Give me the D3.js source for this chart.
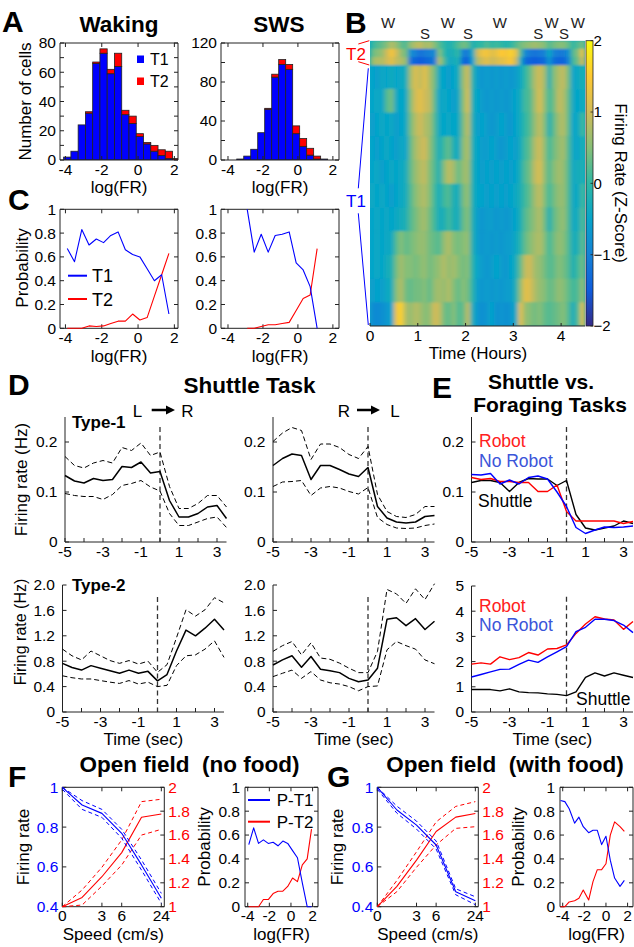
<!DOCTYPE html>
<html>
<head>
<meta charset="utf-8">
<script src="https://cdn.jsdelivr.net/npm/d3@7/dist/d3.min.js"></script>
<style>
html,body{margin:0;padding:0;background:#fff;}
svg{display:block;}
</style>
</head>
<body>
<svg id="fig" width="634" height="947" font-family='"Liberation Sans", Arial, Helvetica, sans-serif'></svg>
<script>
// ================= DATA =================
// Panel A: histograms of log firing rate (counts per bin)
const histBinWidth = 0.4;
const wakeBins = [-3.9,-3.5,-3.1,-2.7,-2.3,-1.9,-1.5,-1.1,-0.7,-0.3,0.1,0.5,0.9,1.3,1.7,2.1];
const wakeT1 = [2,6,24,32,66,73,59,64,31,25,16,11,6,3,1,0];
const wakeT2 = [0,0,0,1,1,3,3,9,3,5,2,1,4,4,5,1];
const swsBins = [-3.3,-2.9,-2.5,-2.1,-1.7,-1.3,-0.9,-0.5,-0.1,0.3,0.7,1.1,1.5];
const swsT1 = [1,4,11,28,52,85,98,93,27,14,5,1,1];
const swsT2 = [0,0,0,0,1,3,5,5,8,8,7,3,0];
const wakeYTicks = [0,10,20,30,40,50,60,70,80];
const wakeYLabels = [0,20,40,60,80];
const swsYTicks = [0,20,40,60,80,100,120];
const swsYLabels = [0,40,80,120];
const logTicks = [-4,-2,0,2];

// Panel C: probability of T1 / T2
const cWakeX = [-3.9,-3.5,-3.1,-2.7,-2.3,-1.9,-1.5,-1.1,-0.7,-0.3,0.1,0.5,0.9,1.3,1.7];
const cWakeT1 = [0.67,0.56,0.83,0.70,0.75,0.72,0.78,0.81,0.66,0.62,0.60,0.50,0.40,0.45,0.12];
const cWakeT2 = [0,0,0,0.02,0.015,0.02,0.04,0.06,0.06,0.12,0.07,0.09,0.27,0.45,0.63];
const cSwsX = [-2.9,-2.5,-2.1,-1.7,-1.3,-0.9,-0.5,-0.1,0.3,0.7,1.1];
const cSwsT1 = [1.0,0.64,0.79,0.64,0.78,0.79,0.81,0.55,0.49,0.35,0.0];
const cSwsT2 = [0,0,0.015,0.03,0.03,0.04,0.05,0.15,0.25,0.28,0.67];
const probTicks = [0,0.2,0.4,0.6,0.8,1];

// Panel B: heatmap (z-score), rows = groups of cells (rank), columns = 0.1 h bins
const heatTime = [0,0.1,0.2,0.3,0.4,0.5,0.6,0.7,0.8,0.9,1.0,1.1,1.2,1.3,1.4,1.5,1.6,1.7,1.8,1.9,2.0,2.1,2.2,2.3,2.4,2.5,2.6,2.7,2.8,2.9,3.0,3.1,3.2,3.3,3.4,3.5,3.6,3.7,3.8,3.9,4.0,4.1,4.2,4.3,4.4];
const heatStep = 0.1;
const heatRowStart = [0,10,20,30,59,88,117,146,175,204,233,262,291,320];
const heatRowEnd   = [10,20,30,59,88,117,146,175,204,233,262,291,320,349];
const heatCells = 349;
const heatZ = [
 [0.0,0.2,0.3,0.5,0.8,0.6,0.3,0.2, 0.6,0.8,0.9,0.7,0.8,0.5, 0.2,0.0,-0.2,0.0,0.2, 0.4,0.3, -0.2,0.0,0.0,0.2,0.0,0.1,0.0,-0.1,0.0,0.2,0.4, 0.5,0.6,0.7,0.6,0.5, 0.2, 0.4,0.5,0.5,0.3, 0.0,0.2,0.4],
 [0.3,0.5,0.6,1.0,1.4,1.0,0.6,0.4, -0.8,-1.0,-1.2,-1.1,-1.0,-0.9, 0.5,0.0,-0.3,-0.2,0.0, -1.0,-1.1, -0.3,1.0,1.3,1.4,1.2,1.3,1.5,1.4,1.6,1.3,0.2, -0.9,-1.1,-1.2,-1.1,-1.0, -0.4, -1.0,-1.1,-1.1,-0.8, 0.2,0.5,1.3],
 [0.6,0.8,0.8,1.0,1.2,0.9,0.8,0.6, -1.2,-1.4,-1.5,-1.4,-1.3,-1.1, 0.8,0.2,-0.4,-0.3,-0.2, -1.3,-1.4, -0.5,0.8,1.0,1.2,1.0,1.1,1.2,1.3,1.5,1.0,-0.3, -1.3,-1.4,-1.5,-1.4,-1.3, -0.7, -1.3,-1.4,-1.4,-1.0, 0.1,0.4,1.0],
 [-0.5,-0.6,-0.4,-0.5,-0.3,-0.5,-0.4,-0.3, 0.7,1.1,0.9,1.2,0.8,0.4, -0.4,-0.5,-0.6,-0.5,-0.3, 0.6,1.0, -0.1,-0.6,-0.7,-0.6,-0.7,-0.6,-0.7,-0.6,-0.7,-0.6,-0.4, 0.0,0.3,0.8,1.0,0.7, -0.2, 0.5,0.8,0.9,0.4, -0.5,-0.4,-0.2],
 [-0.5,-0.4,-0.5,0.2,0.4,-0.4,-0.5,-0.4, 0.5,1.0,1.2,1.0,0.9,0.3, -0.5,-0.4,-0.5,-0.6,-0.4, 0.5,1.1, -0.2,-0.5,-0.6,-0.7,-0.6,-0.7,-0.6,-0.7,-0.6,-0.5,-0.3, 0.1,0.2,0.7,1.1,0.6, 0.1, 0.4,0.9,0.8,0.3, -0.4,-0.5,-0.3],
 [-0.6,-0.5,-0.4,-0.5,-0.4,-0.6,-0.5,-0.4, 0.4,0.8,1.0,0.8,0.7,0.2, -0.4,-0.5,-0.4,-0.5,-0.4, 0.4,0.9, -0.2,-0.6,-0.5,-0.6,-0.7,-0.6,-0.5,-0.6,-0.7,-0.5,-0.3, 0.0,0.2,0.6,0.9,0.5, -0.2, 0.3,0.7,0.8,0.3, -0.5,-0.4,0.1],
 [-0.5,-0.6,-0.5,-0.4,-0.5,-0.6,-0.4,-0.5, 0.3,0.7,0.9,1.0,0.6,0.2, -0.3,0.1,0.3,-0.2,-0.4, 0.5,0.8, -0.2,-0.5,-0.6,-0.6,-0.5,-0.6,-0.7,-0.6,-0.5,-0.6,-0.3, 0.1,0.3,0.8,1.0,0.6, 0.1, 0.4,0.6,0.7,0.2, -0.4,-0.5,-0.2],
 [-0.5,-0.4,-0.6,-0.5,-0.4,-0.5,-0.4,-0.3, 0.3,0.6,0.8,0.9,0.5,0.2, -0.2,0.5,0.9,0.7,0.3, 0.6,0.7, -0.2,-0.5,-0.6,-0.5,-0.6,-0.5,-0.6,-0.5,-0.6,-0.5,-0.2, 0.2,0.4,0.9,1.1,0.6, 0.2, 0.5,0.7,0.6,0.2, -0.4,-0.3,-0.2],
 [-0.4,-0.5,-0.4,-0.5,-0.6,-0.5,-0.4,-0.3, 0.2,0.5,0.7,0.8,0.5,0.1, -0.3,0.1,0.2,-0.2,-0.3, 0.4,0.6, -0.2,-0.5,-0.5,-0.6,-0.5,-0.6,-0.5,-0.6,-0.5,-0.4,-0.2, 0.1,0.3,0.7,0.9,0.5, 0.1, 0.4,0.6,0.6,0.2, -0.4,-0.4,0.1],
 [-0.5,-0.4,-0.5,-0.4,-0.5,-0.4,-0.3,-0.2, 0.2,0.4,0.6,0.7,0.4,0.1, -0.3,-0.2,0.1,-0.2,-0.3, 0.3,0.5, -0.2,-0.6,-0.7,-0.6,-0.6,-0.7,-0.6,-0.7,-0.6,-0.5,-0.2, 0.2,0.4,0.6,0.8,0.4, -0.2, 0.3,0.5,0.6,0.2, -0.4,-0.3,0.2],
 [-0.5,-0.4,-0.5,-0.4,-0.4,0.2,0.5,0.3, 0.4,0.5,0.6,0.6,0.4,0.3, 0.2,0.6,0.8,0.5,0.4, 0.5,0.6, -0.2,-0.6,-0.7,-0.6,-0.7,-0.6,-0.7,-0.6,-0.6,-0.4,-0.1, 0.3,0.5,0.7,0.8,0.5, 0.1, 0.4,0.6,0.5,0.2, -0.3,-0.2,0.3],
 [-0.5,-0.4,-0.5,-0.3,-0.2,0.4,0.7,0.5, 0.5,0.4,0.5,0.6,0.4,0.5, 0.6,0.8,0.6,0.7,0.5, 0.4,0.5, -0.1,-0.5,-0.6,-0.7,-0.6,-0.5,-0.6,-0.7,-0.5,-0.3,0.3, 0.9,1.0,0.7,0.6,0.4, 0.2, 0.3,0.5,0.4,0.2, -0.2,0.1,0.4],
 [-0.6,-0.5,-0.6,-0.4,-0.3,0.5,0.8,0.4, 0.3,0.4,0.4,0.5,0.3,0.6, 0.7,0.6,0.8,0.5,0.3, 0.5,0.4, -0.1,-0.6,-0.7,-0.6,-0.7,-0.6,-0.7,-0.6,-0.6,-0.2,0.6, 1.2,1.1,0.8,0.6,0.5, 0.3, 0.4,0.6,0.5,0.3, 0.1,0.2,0.6],
 [-0.8,-0.9,-0.8,-0.7,-0.5,1.3,1.6,0.8, 0.6,0.8,0.7,0.5,0.6,1.0, 0.9,0.4,0.3,0.5,0.2, 0.3,0.9, -0.3,-0.7,-0.8,-0.7,-0.5,-0.8,-0.7,-0.8,-0.7,-0.4,1.2, 0.6,0.5,0.4,0.5,0.3, 0.2, 0.3,0.4,0.5,0.2, -0.3,0.2,1.2]
];
const hourTicks = [0,1,2,3,4];
const zTicks = [2,1,0,-1,-2];
const wLabelTimes = [0.38,1.63,2.72,3.8,4.35];
const sLabelTimes = [1.15,2.05,3.52,4.06];

// Panel D: shuttle task, time from boundary crossing (s)
const dTime = [-5,-4.5,-4,-3.5,-3,-2.5,-2,-1.5,-1,-0.5,0,0.5,1,1.5,2,2.5,3,3.5];
const dTicks = [-5,-4,-3,-2,-1,0,1,2,3];
const dTickLabels = [-5,-3,-1,1,3];
const d1LRmean = [0.133,0.122,0.118,0.127,0.123,0.125,0.151,0.149,0.160,0.138,0.141,0.083,0.050,0.050,0.057,0.070,0.073,0.047];
const d1LRup   = [0.171,0.153,0.148,0.158,0.163,0.158,0.189,0.183,0.198,0.173,0.180,0.111,0.067,0.067,0.077,0.093,0.093,0.070];
const d1LRlo   = [0.097,0.093,0.091,0.091,0.085,0.095,0.113,0.117,0.123,0.110,0.102,0.057,0.033,0.033,0.040,0.047,0.050,0.029];
const d1RLmean = [0.153,0.167,0.176,0.173,0.125,0.153,0.153,0.145,0.136,0.131,0.149,0.071,0.048,0.040,0.038,0.040,0.051,0.053];
const d1RLup   = [0.201,0.218,0.229,0.223,0.165,0.196,0.196,0.189,0.175,0.167,0.191,0.095,0.061,0.051,0.049,0.055,0.071,0.071];
const d1RLlo   = [0.111,0.120,0.121,0.123,0.093,0.108,0.111,0.108,0.101,0.096,0.109,0.049,0.035,0.028,0.027,0.028,0.033,0.036];
const d2LRmean = [0.766,0.70,0.66,0.73,0.69,0.65,0.61,0.66,0.61,0.64,0.49,0.59,0.96,1.29,1.20,1.32,1.46,1.29];
const d2LRup   = [0.99,0.885,0.82,0.96,0.885,0.81,0.766,0.81,0.755,0.80,0.625,0.745,1.17,1.61,1.51,1.61,1.80,1.72];
const d2LRlo   = [0.57,0.54,0.52,0.52,0.495,0.47,0.45,0.495,0.44,0.47,0.40,0.42,0.73,0.885,0.90,0.99,1.12,0.86];
const d2RLmean = [0.74,0.82,0.886,0.705,0.875,0.674,0.65,0.62,0.53,0.477,0.504,0.69,1.46,1.485,1.36,1.47,1.30,1.43];
const d2RLup   = [0.955,1.045,1.11,0.90,1.09,0.85,0.83,0.77,0.69,0.62,0.62,0.955,1.93,1.86,1.71,1.94,1.77,2.02];
const d2RLlo   = [0.557,0.61,0.66,0.53,0.637,0.504,0.46,0.44,0.40,0.334,0.40,0.41,0.98,1.11,1.045,0.99,0.82,0.76];
const type1Ticks = [0,0.1,0.2];
const type2Ticks = [0,0.4,0.8,1.2,1.6,2.0];
const eBotTicks = [0,1,2,3,4,5];

// Panel E: shuttle vs foraging
const eTopRobot   = [0.129,0.125,0.127,0.121,0.121,0.119,0.119,0.101,0.101,0.114,0.061,0.042,0.042,0.042,0.042,0.042,0.037,0.041];
const eTopNoRobot = [0.135,0.134,0.137,0.116,0.124,0.116,0.129,0.132,0.126,0.100,0.071,0.029,0.017,0.024,0.030,0.029,0.030,0.032];
const eTopShuttle = [0.119,0.123,0.123,0.119,0.101,0.119,0.127,0.126,0.126,0.113,0.123,0.055,0.028,0.024,0.028,0.032,0.042,0.037];
const eBotRobot   = [1.90,1.95,1.90,2.19,2.08,2.16,2.36,2.26,2.50,2.52,2.66,3.12,3.49,3.78,3.69,3.65,3.28,3.59];
const eBotNoRobot = [1.39,1.49,1.59,1.69,1.70,1.89,2.06,1.97,2.19,2.39,2.59,3.19,3.36,3.68,3.68,3.63,3.45,3.15];
const eBotShuttle = [0.89,0.89,0.89,0.84,0.92,0.80,0.77,0.76,0.72,0.70,0.65,0.80,1.37,1.55,1.43,1.55,1.46,1.37];

// Panels F / G: speed tuning (speed bins) and probability
const speedIdx = [0,1,2,3,4,5];
const speedTickIdx = [0,2,3,5];
const speedTickLabels = ['0','3','6','24'];
const frBlueTicks = [0.4,0.6,0.8,1];
const frRedTicks = [1,1.2,1.4,1.6,1.8,2];
const fBlue   = [1.0,0.911,0.869,0.769,0.61,0.442];
const fBlueUp = [1.0,0.933,0.889,0.789,0.635,0.467];
const fBlueLo = [0.99,0.889,0.849,0.744,0.584,0.417];
const fRed    = [1.0,1.078,1.251,1.453,1.749,1.777];
const fRedUp  = [1.0,1.14,1.33,1.559,1.88,1.90];
const fRedLo  = [1.0,1.014,1.173,1.349,1.60,1.648];
const gBlue   = [1.0,0.886,0.81,0.71,0.475,0.43];
const gBlueUp = [1.0,0.905,0.83,0.73,0.49,0.45];
const gBlueLo = [0.99,0.87,0.79,0.69,0.46,0.41];
const gRed    = [1.0,1.17,1.39,1.63,1.75,1.78];
const gRedUp  = [1.0,1.22,1.46,1.71,1.84,1.88];
const gRedLo  = [1.0,1.126,1.33,1.517,1.656,1.67];
const fProbX = [-3.9,-3.45,-3.0,-2.55,-2.1,-1.65,-1.2,-0.75,-0.3,0.15,0.6,1.05,1.5,1.9];
const fPT1 = [0.52,0.66,0.53,0.56,0.53,0.54,0.51,0.55,0.53,0.47,0.41,0.20,0,0];
const fPT2 = [0,0,0,0.06,0.06,0.11,0.13,0.13,0.17,0.24,0.21,0.35,0.40,0.65];
const gProbX = [-4.2,-3.8,-3.4,-2.9,-2.5,-2.1,-1.6,-1.2,-0.8,-0.4,0,0.4,0.8,1.3,1.7];
const gPT1 = [0.89,0.88,0.82,0.70,0.75,0.67,0.62,0.64,0.64,0.52,0.59,0.39,0.24,0.17,0.22];
const gPT2 = [0,0,0.04,0.05,0.07,0.14,0.056,0.21,0.31,0.31,0.36,0.60,0.71,0.67,0.63];

// ================= DRAWING =================
const svg = d3.select('#fig');
const defs = svg.append('defs');
const AX = '#222';
const FT = 15.5, FL = 17, FTI = 22.5, FP = 30;
const TOFF = 14.5;   // x tick label baseline below spine
const LOFF = 33.2;   // x axis title baseline below spine
const BLUE = '#0000ff', RED = '#ff0000';

function T(x, y, s, o = {}) {
  const t = svg.append('text').attr('x', x).attr('y', y).text(s)
    .attr('font-size', o.size || FT).attr('text-anchor', o.anchor || 'middle')
    .attr('fill', o.fill || '#000').attr('font-weight', o.weight || 'normal');
  if (o.rot) t.attr('transform', `rotate(${o.rot},${x},${y})`);
  if (o.dy) t.attr('dy', o.dy);
  return t;
}
function L(x1, y1, x2, y2, o = {}) {
  return svg.append('line').attr('x1', x1).attr('y1', y1).attr('x2', x2).attr('y2', y2)
    .attr('stroke', o.stroke || AX).attr('stroke-width', o.w || 1)
    .attr('stroke-dasharray', o.dash || null);
}
function frame(sx, sy, box) {
  const [x0, x1] = sx.range(), [yb, yt] = sy.range();
  svg.append('path').attr('d', box ? `M${x0},${yt}H${x1}V${yb}H${x0}Z` : `M${x0},${yt}V${yb}H${x1}`)
    .attr('fill', 'none').attr('stroke', AX).attr('stroke-width', 1);
}
function ticksX(sx, sy, vals, box) {
  const [yb, yt] = sy.range();
  vals.forEach(v => { L(sx(v), yb, sx(v), yb - 4); if (box) L(sx(v), yt, sx(v), yt + 4); });
}
function ticksY(sx, sy, vals, box) {
  const [x0, x1] = sx.range();
  vals.forEach(v => { L(x0, sy(v), x0 + 4, sy(v)); if (box) L(x1, sy(v), x1 - 4, sy(v)); });
}
function labelsX(sx, sy, vals, fmt) {
  const yb = sy.range()[0];
  vals.forEach((v, i) => T(sx(v), yb + TOFF, fmt(v, i), { size: FT }));
}
function labelsY(sx, sy, vals, fmt, o = {}) {
  const gap = o.gap ?? 4;
  const x = o.right ? sx.range()[1] + gap : sx.range()[0] - gap;
  vals.forEach((v, i) => T(x, sy(v), fmt(v, i), { size: FT, anchor: o.right ? 'start' : 'end', dy: '0.35em', fill: o.fill }));
}
function xTitle(sx, sy, s) {
  const [x0, x1] = sx.range();
  T((x0 + x1) / 2, sy.range()[0] + LOFF, s, { size: FL });
}
function plotLine(sx, sy, xs, ys, o = {}) {
  svg.append('path').datum(d3.zip(xs, ys))
    .attr('d', d3.line().x(d => sx(d[0])).y(d => sy(d[1])))
    .attr('fill', 'none').attr('stroke', o.stroke || '#000').attr('stroke-width', o.w || 1.2)
    .attr('stroke-dasharray', o.dash || null).attr('stroke-linejoin', 'round');
}
const fmtS = v => String(v);
const fmtP = v => String(+v.toFixed(1));
const fmt1 = v => v === 0 ? '0' : v.toFixed(1);

// Panel letters
[['A', 2, 32], ['B', 345, 33], ['C', 8, 210], ['D', 8, 395], ['E', 432, 398], ['F', 8, 787], ['G', 327, 787]]
  .forEach(([s, x, y]) => T(x, y, s, { size: FP, weight: 'bold', anchor: 'start' }));

// ---------- Panel A ----------
function hist(id, sx, sy, bins, t1, t2) {
  const [x0, x1] = sx.range(), [yb, yt] = sy.range();
  defs.append('clipPath').attr('id', id).append('rect').attr('x', x0).attr('y', yt).attr('width', x1 - x0).attr('height', yb - yt);
  const g = svg.append('g').attr('clip-path', `url(#${id})`);
  bins.forEach((b, i) => {
    const xa = sx(b - histBinWidth / 2), w = sx(b + histBinWidth / 2) - xa;
    if (t1[i] > 0) g.append('rect').attr('x', xa).attr('y', sy(t1[i])).attr('width', w).attr('height', sy(0) - sy(t1[i]))
      .attr('fill', BLUE).attr('stroke', '#222').attr('stroke-width', 0.8);
    if (t2[i] > 0) g.append('rect').attr('x', xa).attr('y', sy(t1[i] + t2[i])).attr('width', w).attr('height', sy(t1[i]) - sy(t1[i] + t2[i]))
      .attr('fill', RED).attr('stroke', '#222').attr('stroke-width', 0.8);
  });
}
const xAw = d3.scaleLinear([-4.3, 2.2], [60, 178]);
const yAw = d3.scaleLinear([0, 80], [160, 43]);
hist('clipAw', xAw, yAw, wakeBins, wakeT1, wakeT2);
frame(xAw, yAw, true); ticksX(xAw, yAw, logTicks, true); ticksY(xAw, yAw, wakeYTicks, true);
labelsX(xAw, yAw, logTicks, fmtS); labelsY(xAw, yAw, wakeYLabels, fmtS);
T(119, 32, 'Waking', { size: FTI, weight: 'bold' });
T(31, 101.5, 'Number of cells', { size: FL, rot: -90 });
xTitle(xAw, yAw, 'log(FR)');
svg.append('rect').attr('x', 137).attr('y', 55.5).attr('width', 7).attr('height', 7.5).attr('fill', BLUE);
svg.append('rect').attr('x', 137).attr('y', 77.5).attr('width', 7).attr('height', 7.5).attr('fill', RED);
T(150, 64.5, 'T1', { size: 16, anchor: 'start' });
T(150, 86.5, 'T2', { size: 16, anchor: 'start' });

const xAs = d3.scaleLinear([-4.4, 2.35], [221, 339]);
const yAs = d3.scaleLinear([0, 120], [160, 43]);
hist('clipAs', xAs, yAs, swsBins, swsT1, swsT2);
frame(xAs, yAs, true); ticksX(xAs, yAs, logTicks, true); ticksY(xAs, yAs, swsYTicks, true);
labelsX(xAs, yAs, logTicks, fmtS); labelsY(xAs, yAs, swsYLabels, fmtS);
T(279, 32, 'SWS', { size: FTI, weight: 'bold' });
xTitle(xAs, yAs, 'log(FR)');

// ---------- Panel C ----------
const yC = d3.scaleLinear([0, 1], [328.3, 209.3]);
const xCw = d3.scaleLinear([-4.3, 2.2], [60, 178]);
const xCs = d3.scaleLinear([-4.4, 2.35], [221, 339]);
[[xCw, cWakeX, cWakeT1, cWakeT2], [xCs, cSwsX, cSwsT1, cSwsT2]].forEach(([sx, xs, a, b]) => {
  frame(sx, yC, true); ticksX(sx, yC, logTicks, true); ticksY(sx, yC, probTicks, true);
  labelsX(sx, yC, logTicks, fmtS); labelsY(sx, yC, probTicks, fmtP);
  plotLine(sx, yC, xs, b, { stroke: RED, w: 1.1 });
  plotLine(sx, yC, xs, a, { stroke: BLUE, w: 1.1 });
  xTitle(sx, yC, 'log(FR)');
});
T(28, 268, 'Probability', { size: FL, rot: -90 });
L(68, 275.7, 87, 275.7, { stroke: BLUE, w: 2 }); T(92, 282, 'T1', { size: 18, anchor: 'start' });
L(68, 299, 87, 299, { stroke: RED, w: 2 }); T(92, 305.5, 'T2', { size: 18, anchor: 'start' });

// ---------- Panel B ----------
const xB = d3.scaleLinear([0, 4.5], [370, 585]);
const yB = d3.scaleLinear([0, heatCells], [40.7, 326]);
const parulaStops = ['#352a87', '#0f5cdd', '#1481d6', '#06a4ca', '#2eb7a4', '#87bf77', '#d1bb59', '#fec832', '#f9fb0e'];
const zScale = d3.scaleLinear([-2, 2], [0, 1]);
const cmap = d3.scaleLinear().domain(parulaStops.map((c, i) => zScale.invert(i / (parulaStops.length - 1)))).range(parulaStops).clamp(true);
defs.append('clipPath').attr('id', 'hclip').append('rect')
  .attr('x', xB(0)).attr('y', yB(0)).attr('width', xB(4.5) - xB(0)).attr('height', yB(heatCells) - yB(0));
const blur = defs.append('filter').attr('id', 'hblur').attr('x', '-5%').attr('y', '-5%').attr('width', '110%').attr('height', '110%');
blur.append('feGaussianBlur').attr('stdDeviation', '2.2 1.2');
const hg = svg.append('g').attr('clip-path', 'url(#hclip)');
hg.append('rect').attr('x', xB(0)).attr('y', yB(0)).attr('width', xB(4.5) - xB(0)).attr('height', yB(heatCells) - yB(0)).attr('fill', cmap(-0.45));
const hc = hg.append('g').attr('filter', 'url(#hblur)');
heatZ.forEach((row, r) => row.forEach((z, c) => {
  const x0 = xB(heatTime[c]), x1 = xB(heatTime[c] + heatStep);
  const y0 = yB(heatRowStart[r]), y1 = yB(heatRowEnd[r]);
  hc.append('rect').attr('x', x0).attr('y', y0).attr('width', x1 - x0 + 0.4).attr('height', y1 - y0 + 0.4).attr('fill', cmap(z));
}));
L(xB(0), yB(heatCells), xB(4.5), yB(heatCells), { w: 1.2 });
hourTicks.forEach(h => { L(xB(h), yB(heatCells), xB(h), yB(heatCells) - 3); T(xB(h), yB(heatCells) + TOFF, String(h), { size: FT }); });
T(478, yB(heatCells) + LOFF, 'Time (Hours)', { size: FL });
wLabelTimes.forEach(t => T(xB(t), 28, 'W', { size: 15, fill: '#222' }));
sLabelTimes.forEach(t => T(xB(t), 38.5, 'S', { size: 15, fill: '#222' }));
// colorbar
const yCb = d3.scaleLinear([-2, 2], [326, 40.7]);
const grad = defs.append('linearGradient').attr('id', 'cbgrad').attr('x1', 0).attr('y1', 1).attr('x2', 0).attr('y2', 0);
parulaStops.forEach((c, i) => grad.append('stop').attr('offset', i / (parulaStops.length - 1)).attr('stop-color', c));
svg.append('rect').attr('x', 586).attr('y', yCb(2)).attr('width', 7).attr('height', yCb(-2) - yCb(2))
  .attr('fill', 'url(#cbgrad)').attr('stroke', AX).attr('stroke-width', 0.8);
zTicks.forEach(z => { L(593, yCb(z), 590.5, yCb(z), { w: 0.8 }); T(593.5, yCb(z), z < 0 ? '\u2212' + Math.abs(z) : String(z), { size: 15, anchor: 'start', dy: '0.35em' }); });
T(614.5, 183, 'Firing Rate (Z-Score)', { size: FL, rot: 90 });
// T1 / T2 brackets
T(356, 60, 'T2', { size: 17, fill: RED });
L(358.3, 44, 369.3, 40.7, { stroke: RED, w: 1 }); L(358.3, 61.7, 369.3, 65, { stroke: RED, w: 1 });
T(356, 206.5, 'T1', { size: 17, fill: BLUE });
L(368.3, 68.3, 358.3, 188.3, { stroke: BLUE, w: 1 }); L(358.3, 213.3, 368.3, 325, { stroke: BLUE, w: 1 });

// ---------- Panel D ----------
function shuttlePanel(sx, sy, mean, up, lo, yVals, yFmt, dashTop) {
  frame(sx, sy, false);
  ticksX(sx, sy, dTicks, false); labelsX(sx, sy, dTickLabels, fmtS);
  ticksY(sx, sy, yVals, false); labelsY(sx, sy, yVals, yFmt, { gap: 7.5 });
  L(sx(0), sy(dashTop), sx(0), sy.range()[0], { dash: '5,3.5', w: 1.3, stroke: '#333' });
  plotLine(sx, sy, dTime, up, { dash: '5,3', w: 1 });
  plotLine(sx, sy, dTime, lo, { dash: '5,3', w: 1 });
  plotLine(sx, sy, dTime, mean, { w: 1.5 });
}
const yD1 = d3.scaleLinear([0, 0.25], [542, 417]);
const yD2 = d3.scaleLinear([0, 2], [712, 585]);
const xD1L = d3.scaleLinear([-5, 3.5], [65, 226.5]);
const xD1R = d3.scaleLinear([-5, 3.5], [273, 434.5]);
const xD2L = d3.scaleLinear([-5, 3.5], [62.5, 224]);
const xD2R = d3.scaleLinear([-5, 3.5], [273, 434.5]);
shuttlePanel(xD1L, yD1, d1LRmean, d1LRup, d1LRlo, type1Ticks, fmt1, 0.23);
shuttlePanel(xD1R, yD1, d1RLmean, d1RLup, d1RLlo, type1Ticks, fmt1, 0.23);
shuttlePanel(xD2L, yD2, d2LRmean, d2LRup, d2LRlo, type2Ticks, fmt1, 1.81);
shuttlePanel(xD2R, yD2, d2RLmean, d2RLup, d2RLlo, type2Ticks, fmt1, 1.81);
T(249.5, 393, 'Shuttle Task', { size: FTI, weight: 'bold' });
T(72, 428, 'Type-1', { size: 17, weight: 'bold', anchor: 'start' });
T(72, 591, 'Type-2', { size: 17, weight: 'bold', anchor: 'start' });
T(27, 479.5, 'Firing rate (Hz)', { size: FL, rot: -90 });
T(26, 632, 'Firing rate (Hz)', { size: 16, rot: -90 });
xTitle(xD2L, yD2, 'Time (sec)');
xTitle(xD2R, yD2, 'Time (sec)');
function arrow(xa, xb, y) {
  svg.append('path').attr('d', `M${xa},${y - 1.3}H${xb - 9}V${y - 4.5}L${xb},${y}L${xb - 9},${y + 4.5}V${y + 1.3}H${xa}Z`).attr('fill', '#000');
}
T(137.5, 416.7, 'L', { size: 17 }); arrow(151.7, 175, 410); T(187.5, 416.7, 'R', { size: 17 });
T(344, 416.7, 'R', { size: 17 }); arrow(357, 380, 410); T(395, 416.7, 'L', { size: 17 });

// ---------- Panel E ----------
const xE = d3.scaleLinear([-5, 3.5], [471.5, 633]);
const yE1 = d3.scaleLinear([0, 0.25], [542, 417]);
const yE2 = d3.scaleLinear([0, 5], [712, 586]);
[[yE1, type1Ticks, fmt1, 0.23, eTopRobot, eTopNoRobot, eTopShuttle], [yE2, eBotTicks, fmtS, 4.57, eBotRobot, eBotNoRobot, eBotShuttle]]
  .forEach(([sy, yv, yf, dt, rob, nor, shu]) => {
    frame(xE, sy, false);
    ticksX(xE, sy, dTicks, false); labelsX(xE, sy, dTickLabels, fmtS);
    ticksY(xE, sy, yv, false); labelsY(xE, sy, yv, yf, { gap: 7.5 });
    L(xE(0), sy(dt), xE(0), sy.range()[0], { dash: '5,3.5', w: 1.3, stroke: '#333' });
    plotLine(xE, sy, dTime, shu, { stroke: '#000', w: 1.4 });
    plotLine(xE, sy, dTime, rob, { stroke: RED, w: 1.4 });
    plotLine(xE, sy, dTime, nor, { stroke: BLUE, w: 1.4 });
  });
T(541, 388.5, 'Shuttle vs.', { size: 21, weight: 'bold' });
T(550, 412, 'Foraging Tasks', { size: 21, weight: 'bold' });
T(479, 447, 'Robot', { size: 17.5, anchor: 'start', fill: '#ff2020' });
T(479, 467, 'No Robot', { size: 17.5, anchor: 'start', fill: '#3b55d9' });
T(478, 507, 'Shuttle', { size: 17.5, anchor: 'start' });
T(479, 612, 'Robot', { size: 17.5, anchor: 'start', fill: '#ff2020' });
T(479, 631, 'No Robot', { size: 17.5, anchor: 'start', fill: '#3b55d9' });
T(576, 705, 'Shuttle', { size: 17.5, anchor: 'start' });
xTitle(xE, yE2, 'Time (sec)');

// ---------- Panels F and G ----------
function speedPanel(x0, x1, b, bu, bl, r, ru, rl) {
  const sx = d3.scaleLinear([0, 5.15], [x0, x1]);
  const yb = d3.scaleLinear([0.4, 1], [906.7, 787.3]);
  const yr = d3.scaleLinear([1, 2], [906.7, 787.3]);
  frame(sx, yb, true);
  ticksX(sx, yb, speedTickIdx, true);
  speedTickIdx.forEach((v, i) => T(sx(v), 906.7 + TOFF, speedTickLabels[i], { size: FT }));
  frBlueTicks.forEach(v => L(x0, yb(v), x0 + 4, yb(v)));
  frRedTicks.forEach(v => L(x1, yr(v), x1 - 4, yr(v)));
  labelsY(sx, yb, frBlueTicks, fmtP, { fill: BLUE });
  labelsY(sx, yr, frRedTicks, fmtP, { fill: RED, right: true });
  plotLine(sx, yr, speedIdx, ru, { stroke: RED, dash: '4,3', w: 1 });
  plotLine(sx, yr, speedIdx, rl, { stroke: RED, dash: '4,3', w: 1 });
  plotLine(sx, yr, speedIdx, r, { stroke: RED, w: 1.1 });
  plotLine(sx, yb, speedIdx, bu, { stroke: BLUE, dash: '4,3', w: 1 });
  plotLine(sx, yb, speedIdx, bl, { stroke: BLUE, dash: '4,3', w: 1 });
  plotLine(sx, yb, speedIdx, b, { stroke: BLUE, w: 1.1 });
  xTitle(sx, yb, 'Speed (cm/s)');
}
function probPanel(x0, x1, xs, p1, p2) {
  const sx = d3.scaleLinear([-4.25, 2.5], [x0, x1]);
  const sy = d3.scaleLinear([0, 1], [906.7, 787.3]);
  frame(sx, sy, true);
  ticksX(sx, sy, logTicks, true); ticksY(sx, sy, probTicks, true);
  labelsX(sx, sy, logTicks, fmtS); labelsY(sx, sy, probTicks, fmtP, { gap: 5 });
  plotLine(sx, sy, xs, p2, { stroke: RED, w: 1.1 });
  plotLine(sx, sy, xs, p1, { stroke: BLUE, w: 1.1 });
  xTitle(sx, sy, 'log(FR)');
}
speedPanel(62.3, 164.3, fBlue, fBlueUp, fBlueLo, fRed, fRedUp, fRedLo);
probPanel(245, 318, fProbX, fPT1, fPT2);
speedPanel(377.3, 478.3, gBlue, gBlueUp, gBlueLo, gRed, gRedUp, gRedLo);
probPanel(560, 633, gProbX, gPT1, gPT2);
T(29, 847, 'Firing rate', { size: FL, rot: -90 });
T(210, 847, 'Probability', { size: FL, rot: -90 });
T(343, 847, 'Firing rate', { size: FL, rot: -90 });
T(524, 847, 'Probability', { size: FL, rot: -90 });
T(189.5, 772, 'Open field\u00a0 (no food)', { size: FTI, weight: 'bold' });
T(505, 772, 'Open field\u00a0 (with food)', { size: FTI, weight: 'bold' });
L(248, 800, 270, 800, { stroke: BLUE, w: 2 }); T(276.7, 806, 'P-T1', { size: 17, anchor: 'start' });
L(248, 821.7, 270, 821.7, { stroke: RED, w: 2 }); T(276.7, 828, 'P-T2', { size: 17, anchor: 'start' });
</script>
</body>
</html>
